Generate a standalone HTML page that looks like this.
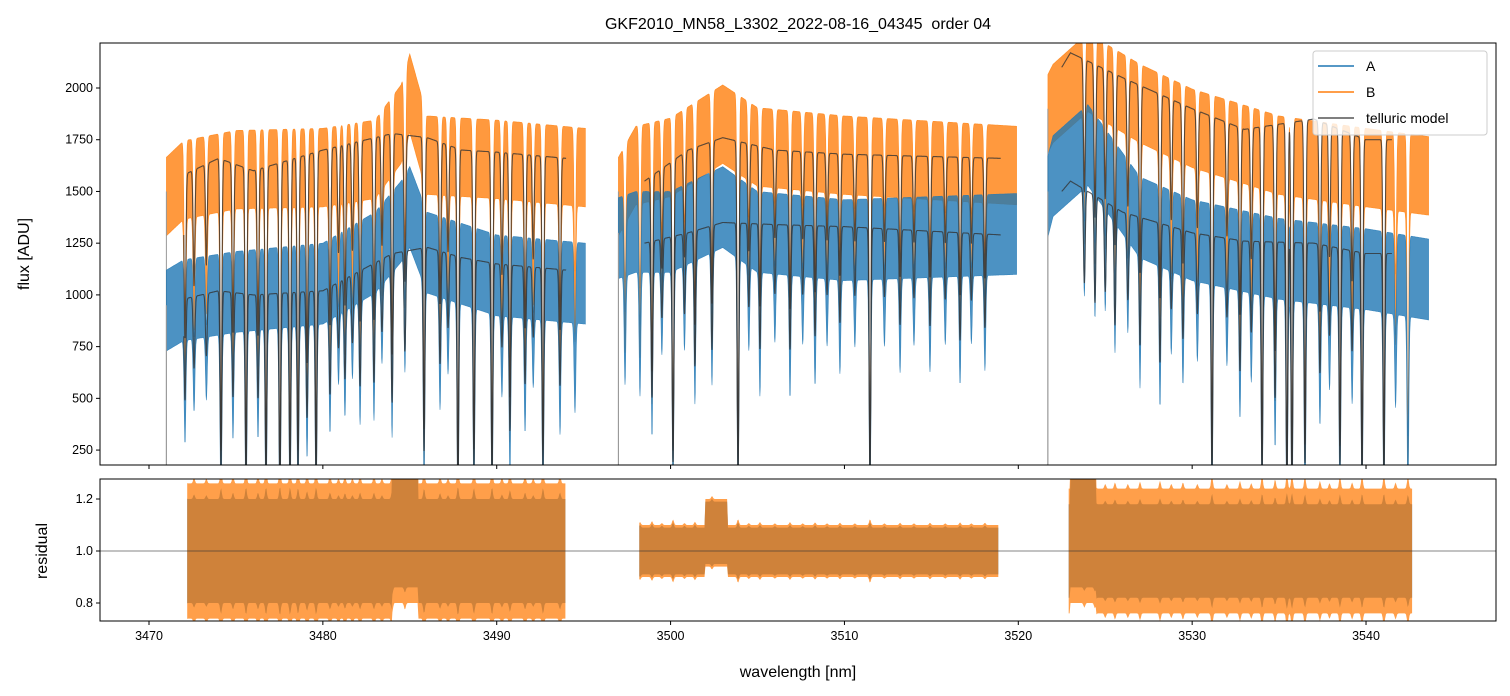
<!DOCTYPE html>
<html><head><meta charset="utf-8"><style>
body{margin:0;background:#fff;}
svg{display:block;font-family:"Liberation Sans","DejaVu Sans",sans-serif;}
</style></head><body>
<svg id="c" width="1510" height="696" xmlns="http://www.w3.org/2000/svg"></svg>
<script>
// ---- data ----
const segments=[[3471.0,3495.1],[3497.0,3519.9],[3521.7,3543.6]];
const contB_w=[3471,3472,3475,3480,3483,3484.5,3485,3486,3490,3495.1, 3497,3498,3500,3503,3505,3510,3519.9, 3521.7,3522,3524,3527,3530,3535,3540,3543.6];
const contB_v=[1500,1580,1630,1640,1680,1850,2000,1700,1680,1640, 1500,1650,1690,1850,1740,1700,1650, 1900,1950,2100,1950,1830,1700,1640,1600];
const contA_w=contB_w;
const contA_v=[950,1000,1040,1080,1230,1380,1450,1230,1120,1080, 1300,1330,1330,1450,1330,1290,1320, 1500,1600,1750,1400,1290,1200,1150,1100];
const modelSegs=[[3472,3494],[3498.5,3519],[3522.5,3541.5]];
const modelB_w=[3472,3474,3476,3480,3484,3486,3488,3490,3494, 3498.5,3501,3503,3506,3510,3519, 3522.5,3523,3526,3530,3533,3537,3540,3541.5];
const modelB_v=[1580,1660,1600,1700,1780,1760,1700,1690,1660, 1550,1700,1760,1700,1680,1660, 2100,2170,2050,1900,1800,1850,1750,1750];
const modelA_w=modelB_w;
const modelA_v=[980,1020,1000,1020,1200,1230,1180,1150,1120, 1250,1300,1350,1340,1330,1290, 1500,1550,1400,1300,1260,1250,1200,1200];
const lineW=[3472.07,3472.59,3473.3,3474.14,3474.83,3475.58,3476.27,3476.73,3477.53,3478.11,3478.57,3479.09,3479.61,3480.41,3480.9,3481.27,3481.7,3482.14,3482.94,3483.4,3483.98,3484.72,3485.82,3486.74,3487.2,3487.77,3488.69,3489.73,3490.3,3490.76,3491.63,3492.1,3492.66,3493.64,3494.5,
3497.38,3498.24,3498.93,3499.5,3500.14,3500.8,3501.40,3502.38,3503.88,3504.5,3505.14,3506.0,3506.87,3507.6,3508.31,3509.0,3509.74,3510.6,3511.47,3512.3,3513.2,3514.0,3514.92,3515.8,3516.65,3517.3,3518.08,
3523.8,3524.41,3525.0,3525.56,3526.3,3527.0,3528.15,3528.8,3529.47,3530.3,3531.14,3532.0,3532.75,3533.4,3534.02,3534.77,3535.45,3535.74,3536.49,3537.35,3537.9,3538.50,3539.2,3539.77,3541.03,3541.7,3542.41];
const lineD=[0.5,0.35,0.3,0.85,0.5,0.9,0.5,0.9,0.95,0.9,0.85,0.6,0.9,0.5,0.3,0.45,0.3,0.5,0.5,0.3,0.6,0.4,0.8,0.45,0.3,0.95,0.85,0.9,0.35,0.7,0.5,0.3,0.85,0.5,0.4,
0.4,0.45,0.6,0.3,0.85,0.3,0.5,0.45,0.9,0.3,0.45,0.25,0.45,0.25,0.4,0.25,0.35,0.25,0.9,0.25,0.35,0.25,0.35,0.25,0.4,0.25,0.35,
0.3,0.35,0.3,0.4,0.3,0.45,0.5,0.3,0.4,0.3,0.9,0.3,0.5,0.35,0.9,0.6,0.95,0.95,0.85,0.5,0.35,0.85,0.4,0.9,0.9,0.4,0.8];
const noiseB=165, noiseA=170;
const residSegs=[[3472.2,3494.0],[3498.2,3518.9],[3522.9,3542.7]];
const residSpreadA=[0.2,0.09,0.18];
const residSpreadB=[0.26,0.1,0.24];
const xTicks=[3470,3480,3490,3500,3510,3520,3530,3540];
const yTicksTop=[250,500,750,1000,1250,1500,1750,2000];
const yTicksBot=[0.8,1.0,1.2];

// ---- scales ----
const L=100,R=1496,T1=43,B1=465,T2=479,B2=621;
const x=w=>149+(w-3470)*17.386;
const y1=v=>88+(2000-v)*0.2069;
const y2=v=>551-(v-1)*260;
const NS="http://www.w3.org/2000/svg";
const svg=document.getElementById('c');
function mk(tag,attrs,parent){const e=document.createElementNS(NS,tag);for(const k in attrs)e.setAttribute(k,attrs[k]);(parent||svg).appendChild(e);return e;}
function interp(ws,vs,w){if(w<=ws[0])return vs[0];for(let i=1;i<ws.length;i++){if(w<=ws[i]){const t=(w-ws[i-1])/(ws[i]-ws[i-1]||1);return vs[i-1]+t*(vs[i]-vs[i-1]);}}return vs[vs.length-1];}
function absorb(w){let f=1;for(let i=0;i<lineW.length;i++){const d=(w-lineW[i])/0.07;if(Math.abs(d)<4)f*=1-lineD[i]*Math.exp(-d*d);}return f;}

mk('defs',{}).innerHTML='<clipPath id="cp1"><rect x="100" y="43" width="1396" height="422"/></clipPath><clipPath id="cp2"><rect x="100" y="479" width="1396" height="142"/></clipPath>';
const g1=mk('g',{'clip-path':'url(#cp1)'});



function band(cw,cv,noise,color,name){
  for(const s of segments){
    let up=[],lo=[];
    for(let w=s[0];w<=s[1];w+=0.02){const a=absorb(w);const c=interp(cw,cv,w)*a;up.push(x(w).toFixed(1)+','+y1(c+noise*Math.sqrt(a)).toFixed(1));lo.push(x(w).toFixed(1)+','+y1(Math.max(c-noise*1.3,-200)).toFixed(1));}
    const p=mk('polygon',{points:up.concat(lo.reverse()).join(' '),fill:color,'fill-opacity':0.8,stroke:color,'stroke-width':0.6,'stroke-opacity':0.8},g1);
    
    
    const e1=mk('line',{x1:x(s[0]),x2:x(s[0]),y1:y1(interp(cw,cv,s[0])),y2:B1,stroke:'#999','stroke-width':1},g1);
    
    
  }
}
band(contB_w,contB_v,noiseB,'#ff7f0e','series-b-band');
band(contA_w,contA_v,noiseA,'#1f77b4','series-a-band');
function model(mw,mv,name){
  for(const s of modelSegs){
    let pts=[];
    for(let w=s[0];w<=s[1];w+=0.01){pts.push(x(w).toFixed(1)+','+y1(interp(mw,mv,w)*absorb(w)).toFixed(1));}
    const p=mk('polyline',{points:pts.join(' '),fill:'none',stroke:'#333','stroke-opacity':0.8,'stroke-width':1.1},g1);
    
    
  }
}
model(modelB_w,modelB_v,'telluric-model-b');
model(modelA_w,modelA_v,'telluric-model-a');

// residual
const g2=mk('g',{'clip-path':'url(#cp2)'});


const rcol=['#1f77b4','#ff7f0e'];
for(let k=0;k<2;k++){
  const spr=k?residSpreadB:residSpreadA;
  residSegs.forEach((s,i)=>{
    const sp=spr[i];
    let up=[],lo=[];
    for(let w=s[0];w<=s[1];w+=0.05){
      let bump=0;
      if(w>3484&&w<3485.5)bump=0.15;
      if(w>3502&&w<3503.3)bump=0.1;
      if(w>3523&&w<3524.5)bump=0.1;
      const a=absorb(w);const e=sp*(1+0.25*(1-a));
      up.push(x(w).toFixed(1)+','+y2(1+e+bump).toFixed(1));lo.push(x(w).toFixed(1)+','+y2(1-e+bump*0.4).toFixed(1));
    }
    const p=mk('polygon',{points:up.concat(lo.reverse()).join(' '),fill:rcol[k],'fill-opacity':k?0.75:0.85},g2);
    
    
  });
}
const ref=mk('line',{x1:L,x2:R,y1:y2(1),y2:y2(1),stroke:'#333','stroke-width':0.7,'stroke-opacity':0.8});



// axes frames
for(const [t,b,n] of [[T1,B1,'top-axes-frame'],[T2,B2,'bottom-axes-frame']]){
  const r=mk('rect',{x:L,y:t,width:R-L,height:b-t,fill:'none',stroke:'#000','stroke-width':1});
  
  
}
// ticks
for(const v of xTicks){
  mk('line',{x1:x(v),x2:x(v),y1:B1,y2:B1+4,stroke:'#000'});
  mk('line',{x1:x(v),x2:x(v),y1:B2,y2:B2+4,stroke:'#000'});
  const t=mk('text',{x:x(v),y:B2+19,'text-anchor':'middle','font-size':12.5});t.textContent=v;
  
  
}
for(const v of yTicksTop){
  mk('line',{x1:L-4,x2:L,y1:y1(v),y2:y1(v),stroke:'#000'});
  const t=mk('text',{x:L-7,y:y1(v)+4,'text-anchor':'end','font-size':12.5});t.textContent=v;
  
  
}
for(const v of yTicksBot){
  mk('line',{x1:L-4,x2:L,y1:y2(v),y2:y2(v),stroke:'#000'});
  const t=mk('text',{x:L-7,y:y2(v)+4,'text-anchor':'end','font-size':12.5});t.textContent=v.toFixed(1);
  
  
}
function txt(s,a,n){const t=mk('text',a);t.textContent=s;return t;}
const tt=txt('GKF2010_MN58_L3302_2022-08-16_04345\u00a0\u00a0order 04',{x:798,y:29,'text-anchor':'middle','font-size':16},'chart-title');
txt('wavelength [nm]',{x:798,y:677,'text-anchor':'middle','font-size':16},'x-axis-title');
txt('flux [ADU]',{x:29,y:254,'text-anchor':'middle','font-size':16,transform:'rotate(-90 29 254)'},'y-axis-title');
txt('residual',{x:47,y:551,'text-anchor':'middle','font-size':16,transform:'rotate(-90 47 551)'},'residual-axis-title');
// legend
const lg=mk('g',{});


mk('rect',{x:1313,y:51,width:174,height:84,rx:3,fill:'#fff','fill-opacity':0.8,stroke:'#ccc'},lg);
[['A','#1f77b4'],['B','#ff7f0e'],['telluric model','#555']].forEach((e,i)=>{
  const yy=66+i*26;
  mk('line',{x1:1318,x2:1354,y1:yy,y2:yy,stroke:e[1],'stroke-width':1.5},lg);
  const t=mk('text',{x:1366,y:yy+5,'font-size':14},lg);t.textContent=e[0];
  
  
});
</script>
</body></html>
